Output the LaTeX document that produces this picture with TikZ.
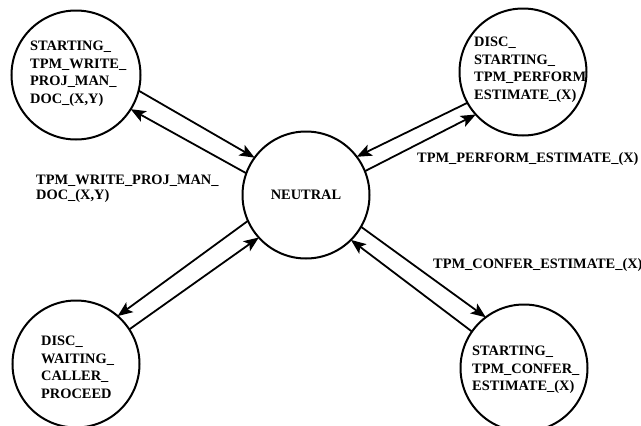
\documentclass[tikz,border=0pt]{standalone}
\usepackage{fontspec}
\setmainfont{Liberation Serif}
\usetikzlibrary{arrows.meta}
\begin{document}
\begin{tikzpicture}[x=1pt,y=-1pt,
  state/.style={circle,draw,line width=2pt,minimum size=127pt,inner sep=0pt,outer sep=0pt,
    font=\fontsize{14.4}{17.5}\selectfont\bfseries},
  stext/.style={anchor=west,align=left,inner sep=0pt,font=\fontsize{14.4}{17.5}\selectfont\bfseries},
  elabel/.style={anchor=west,align=left,inner sep=0pt,font=\fontsize{14.4}{15}\selectfont\bfseries},
  conn/.style={line width=1.8pt,-{Stealth[length=15pt,width=12pt,inset=3.5pt]}}]
\useasboundingbox (0,0) rectangle (641,426);
% states
\node[state] (n) at (306,195) {NEUTRAL};
\node[state,minimum size=129pt] (tl) at (76,75) {};
\node[state] (tr) at (523,72) {};
\node[state] (bl) at (76,364) {};
\node[state] (br) at (524,368) {};
% state texts
\node[stext] (tlt) at (30,74) {STARTING\_\\TPM\_WRITE\_\\PROJ\_MAN\_\\DOC\_(X,Y)};
\node[stext] (trt) at (474,70) {DISC\_\\STARTING\_\\TPM\_PERFORM\\ESTIMATE\_(X)};
\node[stext] (blt) at (41,367.5) {DISC\_\\WAITING\_\\CALLER\_\\PROCEED};
\node[stext] (brt) at (472,370) {STARTING\_\\TPM\_CONFER\_\\ESTIMATE\_(X)};
% connectors
\draw[conn] (tl.-14) -- (n.144);
\draw[conn] (n.160) -- (tl.-32);
\draw[conn] (tr.209) -- (n.37);
\draw[conn] (n.22) -- (tr.222);
\draw[conn] (n.204) -- (bl.49);
\draw[conn] (bl.33) -- (n.222);
\draw[conn] (n.-30) -- (br.127);
\draw[conn] (br.145) -- (n.-45);
% edge labels
\node[elabel] (l1) at (36,188.5) {TPM\_WRITE\_PROJ\_MAN\_\\DOC\_(X,Y)};
\node[elabel] (l2) at (417,159) {TPM\_PERFORM\_ESTIMATE\_(X)};
\node[elabel] (l3) at (433,265) {TPM\_CONFER\_ESTIMATE\_(X)};
\end{tikzpicture}
\end{document}
